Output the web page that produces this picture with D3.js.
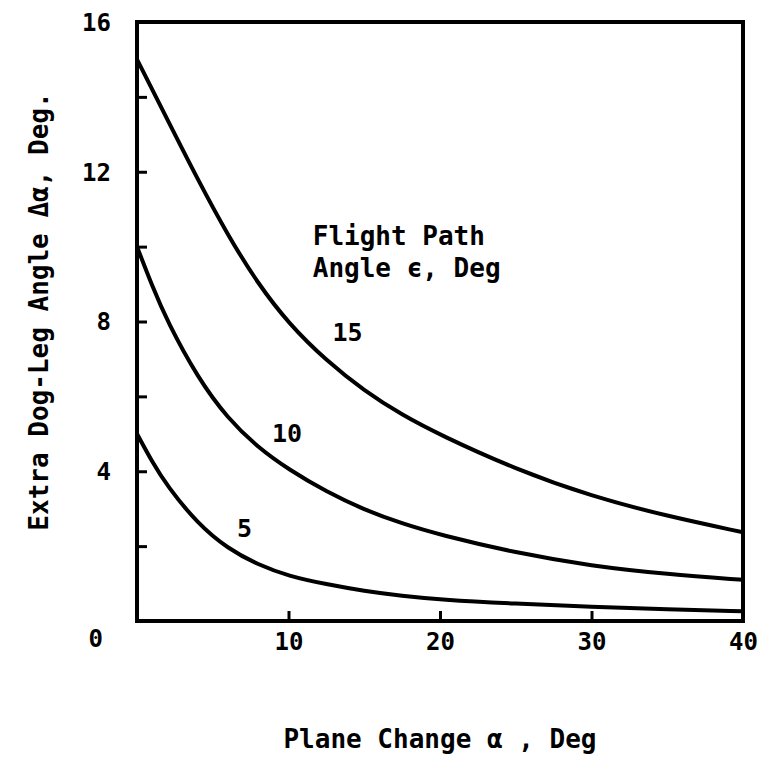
<!DOCTYPE html>
<html>
<head>
<meta charset="utf-8">
<script src="https://cdn.jsdelivr.net/npm/d3@7"></script>
<style>
  body { margin: 0; background: #fff; }
  svg { display: block; }
  text { font-family: "DejaVu Sans Mono", "Liberation Mono", monospace; font-weight: bold; fill: #000; }
</style>
</head>
<body>
<svg id="chart"></svg>
<script>
// plane change alpha (deg) sampled along each curve
const alpha = [0, 1, 2, 4, 6, 8, 10, 12.5, 15, 17.5, 20, 25, 30, 35, 40];
// extra dog-leg angle, one list per flight path angle
const eps15 = [15, 14.2, 13.4, 11.8, 10.3, 9.0, 7.95, 6.95, 6.15, 5.5, 4.97, 4.05, 3.33, 2.8, 2.37];
const eps10 = [10, 8.95, 8.0, 6.5, 5.4, 4.63, 4.05, 3.45, 2.97, 2.6, 2.3, 1.82, 1.47, 1.25, 1.1];
const eps5  = [5, 4.25, 3.6, 2.6, 1.93, 1.5, 1.2, 0.98, 0.8, 0.67, 0.57, 0.46, 0.38, 0.31, 0.26];
const seriesNames = ['15', '10', '5'];
const xTicks = [10, 20, 30, 40];
const yTicks = [0, 4, 8, 12, 16];
const yMinor = [2, 4, 6, 8, 10, 12, 14];
const xMinor = [10, 20, 30];

const width = 763, height = 761;
const margin = {top: 22, right: 20, bottom: 140, left: 137};

const svg = d3.select('#chart')
    .attr('width', width)
    .attr('height', height);

const x = d3.scaleLinear().domain([0, 40]).range([margin.left, width - margin.right]);
const y = d3.scaleLinear().domain([0, 16]).range([height - margin.bottom, margin.top]);

const series = [eps15, eps10, eps5].map((vals, i) => ({
    name: seriesNames[i],
    points: alpha.map((a, j) => [a, vals[j]])
}));

// inner ticks (pointing into the frame)
svg.append('g')
    .attr('transform', `translate(${x(0)},0)`)
    .call(d3.axisRight(y).tickValues(yMinor).tickSize(10).tickFormat(''))
    .call(g => g.select('.domain').remove())
    .call(g => g.selectAll('line').attr('stroke-width', 3));

svg.append('g')
    .attr('transform', `translate(0,${y(0)})`)
    .call(d3.axisTop(x).tickValues(xMinor).tickSize(10).tickFormat(''))
    .call(g => g.select('.domain').remove())
    .call(g => g.selectAll('line').attr('stroke-width', 3));

// tick labels
svg.append('g')
    .attr('transform', `translate(${x(0)},0)`)
    .call(d3.axisLeft(y).tickValues(yTicks).tickSize(0).tickPadding(26).tickFormat(d3.format('d')))
    .call(g => g.select('.domain').remove())
    .call(g => g.selectAll('text')
        .style('font-size', '24px')
        .attr('dy', d => d === 0 ? '1.05em' : '0.35em')
        .attr('dx', d => d === 0 ? '-8' : '0'));

svg.append('g')
    .attr('transform', `translate(0,${y(0)})`)
    .call(d3.axisBottom(x).tickValues(xTicks).tickSize(0).tickPadding(12).tickFormat(d3.format('d')))
    .call(g => g.select('.domain').remove())
    .call(g => g.selectAll('text').style('font-size', '24px'));

// frame
svg.append('rect')
    .attr('x', x(0))
    .attr('y', y(16))
    .attr('width', x(40) - x(0))
    .attr('height', y(0) - y(16))
    .attr('fill', 'none')
    .attr('stroke', '#000')
    .attr('stroke-width', 4);

// curves
const line = d3.line()
    .x(d => x(d[0]))
    .y(d => y(d[1]))
    .curve(d3.curveBasis);

svg.selectAll('path.curve')
    .data(series)
    .join('path')
    .attr('class', 'curve')
    .attr('d', d => line(d.points))
    .attr('fill', 'none')
    .attr('stroke', '#000')
    .attr('stroke-width', 4);

// curve labels, anchored in data units
const labelAt = {'15': [13.9, 7.48], '10': [9.9, 4.78], '5': [7.1, 2.24]};
svg.selectAll('text.clabel')
    .data(series)
    .join('text')
    .attr('class', 'clabel')
    .attr('x', d => x(labelAt[d.name][0]))
    .attr('y', d => y(labelAt[d.name][1]))
    .attr('text-anchor', 'middle')
    .style('font-size', '25px')
    .text(d => d.name);

// legend title
const legend = svg.append('text')
    .attr('x', x(11.6))
    .attr('y', y(10.04))
    .style('font-size', '26px');
legend.append('tspan').text('Flight Path');
legend.append('tspan')
    .attr('x', x(11.6))
    .attr('dy', 32)
    .text('Angle \u03f5, Deg');

// axis titles
svg.append('text')
    .attr('x', (x(0) + x(40)) / 2)
    .attr('y', 748)
    .attr('text-anchor', 'middle')
    .style('font-size', '26px')
    .text('Plane Change  \u03b1 , Deg');

svg.append('text')
    .attr('transform', `translate(48,${(y(0) + y(16)) / 2 - 10}) rotate(-90)`)
    .attr('text-anchor', 'middle')
    .style('font-size', '26px')
    .text('Extra Dog-Leg Angle \u0394\u03b1, Deg.');
</script>
</body>
</html>
